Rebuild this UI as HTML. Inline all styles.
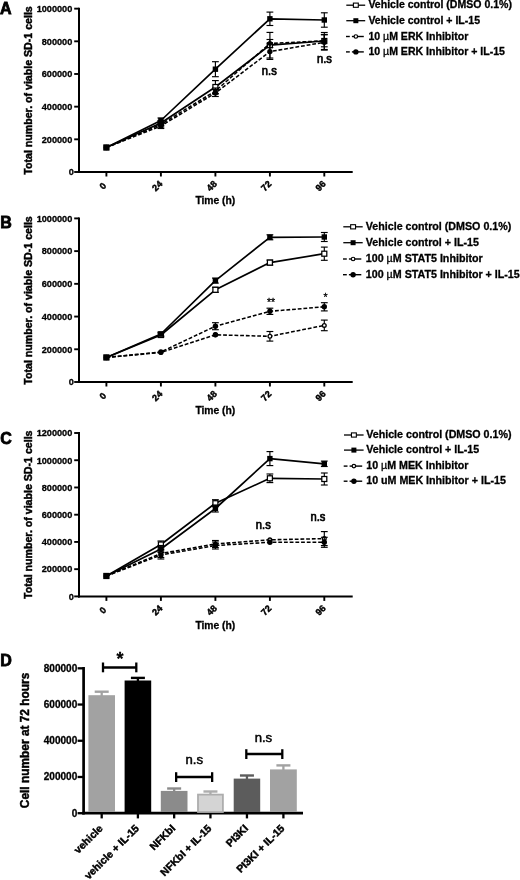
<!DOCTYPE html>
<html lang="en">
<head>
<meta charset="utf-8">
<title>Figure</title>
<style>
html,body{margin:0;padding:0;background:#fff;}
body{width:520px;height:880px;overflow:hidden;}
svg{display:block;font-family:"Liberation Sans", Arial, Helvetica, sans-serif;}
svg text{fill:#000;}
</style>
</head>
<body>
<svg width="520" height="880" viewBox="0 0 520 880">
<rect width="520" height="880" fill="#fff"/>
<text transform="translate(0.00 14.20)" font-size="16" font-weight="bold" text-anchor="start" stroke="#000" stroke-width="0.8">A</text>
<line x1="79.00" y1="7.65" x2="79.00" y2="173.00" stroke="#000" stroke-width="2" stroke-linecap="butt"/>
<line x1="78.00" y1="172.00" x2="352.70" y2="172.00" stroke="#000" stroke-width="2" stroke-linecap="butt"/>
<line x1="74.20" y1="172.00" x2="79.00" y2="172.00" stroke="#000" stroke-width="1.9" stroke-linecap="butt"/>
<text transform="translate(73.80 175.30) scale(0.975 1)" font-size="9.4" font-weight="bold" text-anchor="end" stroke="#000" stroke-width="0.3">0</text>
<line x1="74.20" y1="139.33" x2="79.00" y2="139.33" stroke="#000" stroke-width="1.9" stroke-linecap="butt"/>
<text transform="translate(72.30 142.63) scale(0.975 1)" font-size="9.4" font-weight="bold" text-anchor="end" stroke="#000" stroke-width="0.3">200000</text>
<line x1="74.20" y1="106.66" x2="79.00" y2="106.66" stroke="#000" stroke-width="1.9" stroke-linecap="butt"/>
<text transform="translate(72.30 109.96) scale(0.975 1)" font-size="9.4" font-weight="bold" text-anchor="end" stroke="#000" stroke-width="0.3">400000</text>
<line x1="74.20" y1="73.99" x2="79.00" y2="73.99" stroke="#000" stroke-width="1.9" stroke-linecap="butt"/>
<text transform="translate(72.30 77.29) scale(0.975 1)" font-size="9.4" font-weight="bold" text-anchor="end" stroke="#000" stroke-width="0.3">600000</text>
<line x1="74.20" y1="41.32" x2="79.00" y2="41.32" stroke="#000" stroke-width="1.9" stroke-linecap="butt"/>
<text transform="translate(72.30 44.62) scale(0.975 1)" font-size="9.4" font-weight="bold" text-anchor="end" stroke="#000" stroke-width="0.3">800000</text>
<line x1="74.20" y1="8.65" x2="79.00" y2="8.65" stroke="#000" stroke-width="1.9" stroke-linecap="butt"/>
<text transform="translate(72.30 11.95) scale(0.975 1)" font-size="9.4" font-weight="bold" text-anchor="end" stroke="#000" stroke-width="0.3">1000000</text>
<line x1="106.40" y1="172.00" x2="106.40" y2="176.50" stroke="#000" stroke-width="1.9" stroke-linecap="butt"/>
<text transform="translate(106.90 186.30) rotate(-45)" font-size="9.1" font-weight="bold" text-anchor="end" stroke="#000" stroke-width="0.45">0</text>
<line x1="160.90" y1="172.00" x2="160.90" y2="176.50" stroke="#000" stroke-width="1.9" stroke-linecap="butt"/>
<text transform="translate(163.00 184.50) rotate(-45)" font-size="9.1" font-weight="bold" text-anchor="end" stroke="#000" stroke-width="0.45">24</text>
<line x1="215.40" y1="172.00" x2="215.40" y2="176.50" stroke="#000" stroke-width="1.9" stroke-linecap="butt"/>
<text transform="translate(217.50 184.50) rotate(-45)" font-size="9.1" font-weight="bold" text-anchor="end" stroke="#000" stroke-width="0.45">48</text>
<line x1="269.90" y1="172.00" x2="269.90" y2="176.50" stroke="#000" stroke-width="1.9" stroke-linecap="butt"/>
<text transform="translate(272.00 184.50) rotate(-45)" font-size="9.1" font-weight="bold" text-anchor="end" stroke="#000" stroke-width="0.45">72</text>
<line x1="324.30" y1="172.00" x2="324.30" y2="176.50" stroke="#000" stroke-width="1.9" stroke-linecap="butt"/>
<text transform="translate(326.40 184.50) rotate(-45)" font-size="9.1" font-weight="bold" text-anchor="end" stroke="#000" stroke-width="0.45">96</text>
<text transform="translate(215.30 203.70)" font-size="10.3" font-weight="bold" text-anchor="middle" stroke="#000" stroke-width="0.3">Time (h)</text>
<text transform="translate(31.70 90.45) rotate(-90) scale(1.012 1)" font-size="10.5" font-weight="bold" text-anchor="middle" stroke="#000" stroke-width="0.45">Total number. of viable SD-1 cells</text>
<polyline points="106.40,147.50 160.90,123.00 215.40,87.00 269.90,45.20 324.30,41.00" fill="none" stroke="#000" stroke-width="1.7" stroke-linejoin="round"/>
<line x1="160.90" y1="120.50" x2="160.90" y2="125.50" stroke="#000" stroke-width="1.15" stroke-linecap="butt"/>
<line x1="157.50" y1="120.50" x2="164.30" y2="120.50" stroke="#000" stroke-width="1.15" stroke-linecap="butt"/>
<line x1="157.50" y1="125.50" x2="164.30" y2="125.50" stroke="#000" stroke-width="1.15" stroke-linecap="butt"/>
<line x1="215.40" y1="80.60" x2="215.40" y2="93.40" stroke="#000" stroke-width="1.15" stroke-linecap="butt"/>
<line x1="212.00" y1="80.60" x2="218.80" y2="80.60" stroke="#000" stroke-width="1.15" stroke-linecap="butt"/>
<line x1="212.00" y1="93.40" x2="218.80" y2="93.40" stroke="#000" stroke-width="1.15" stroke-linecap="butt"/>
<line x1="269.90" y1="32.40" x2="269.90" y2="58.00" stroke="#000" stroke-width="1.15" stroke-linecap="butt"/>
<line x1="266.50" y1="32.40" x2="273.30" y2="32.40" stroke="#000" stroke-width="1.15" stroke-linecap="butt"/>
<line x1="266.50" y1="58.00" x2="273.30" y2="58.00" stroke="#000" stroke-width="1.15" stroke-linecap="butt"/>
<line x1="324.30" y1="32.50" x2="324.30" y2="49.50" stroke="#000" stroke-width="1.15" stroke-linecap="butt"/>
<line x1="320.90" y1="32.50" x2="327.70" y2="32.50" stroke="#000" stroke-width="1.15" stroke-linecap="butt"/>
<line x1="320.90" y1="49.50" x2="327.70" y2="49.50" stroke="#000" stroke-width="1.15" stroke-linecap="butt"/>
<rect x="103.90" y="145.00" width="5" height="5" fill="#fff" stroke="#000" stroke-width="1.25"/>
<rect x="158.40" y="120.50" width="5" height="5" fill="#fff" stroke="#000" stroke-width="1.25"/>
<rect x="212.90" y="84.50" width="5" height="5" fill="#fff" stroke="#000" stroke-width="1.25"/>
<rect x="267.40" y="42.70" width="5" height="5" fill="#fff" stroke="#000" stroke-width="1.25"/>
<rect x="321.80" y="38.50" width="5" height="5" fill="#fff" stroke="#000" stroke-width="1.25"/>
<polyline points="106.40,147.50 160.90,120.50 215.40,69.20 269.90,18.80 324.30,20.00" fill="none" stroke="#000" stroke-width="1.7" stroke-linejoin="round"/>
<line x1="160.90" y1="118.00" x2="160.90" y2="123.00" stroke="#000" stroke-width="1.15" stroke-linecap="butt"/>
<line x1="157.50" y1="118.00" x2="164.30" y2="118.00" stroke="#000" stroke-width="1.15" stroke-linecap="butt"/>
<line x1="157.50" y1="123.00" x2="164.30" y2="123.00" stroke="#000" stroke-width="1.15" stroke-linecap="butt"/>
<line x1="215.40" y1="61.70" x2="215.40" y2="76.70" stroke="#000" stroke-width="1.15" stroke-linecap="butt"/>
<line x1="212.00" y1="61.70" x2="218.80" y2="61.70" stroke="#000" stroke-width="1.15" stroke-linecap="butt"/>
<line x1="212.00" y1="76.70" x2="218.80" y2="76.70" stroke="#000" stroke-width="1.15" stroke-linecap="butt"/>
<line x1="269.90" y1="12.10" x2="269.90" y2="25.50" stroke="#000" stroke-width="1.15" stroke-linecap="butt"/>
<line x1="266.50" y1="12.10" x2="273.30" y2="12.10" stroke="#000" stroke-width="1.15" stroke-linecap="butt"/>
<line x1="266.50" y1="25.50" x2="273.30" y2="25.50" stroke="#000" stroke-width="1.15" stroke-linecap="butt"/>
<line x1="324.30" y1="12.80" x2="324.30" y2="27.20" stroke="#000" stroke-width="1.15" stroke-linecap="butt"/>
<line x1="320.90" y1="12.80" x2="327.70" y2="12.80" stroke="#000" stroke-width="1.15" stroke-linecap="butt"/>
<line x1="320.90" y1="27.20" x2="327.70" y2="27.20" stroke="#000" stroke-width="1.15" stroke-linecap="butt"/>
<rect x="103.70" y="144.80" width="5.4" height="5.4" fill="#000"/>
<rect x="158.20" y="117.80" width="5.4" height="5.4" fill="#000"/>
<rect x="212.70" y="66.50" width="5.4" height="5.4" fill="#000"/>
<rect x="267.20" y="16.10" width="5.4" height="5.4" fill="#000"/>
<rect x="321.60" y="17.30" width="5.4" height="5.4" fill="#000"/>
<polyline points="106.40,147.50 160.90,124.50 215.40,91.00 269.90,43.50 324.30,40.80" fill="none" stroke="#000" stroke-width="1.55" stroke-dasharray="3.8 1.9" stroke-linejoin="round"/>
<line x1="160.90" y1="122.00" x2="160.90" y2="127.00" stroke="#000" stroke-width="1.15" stroke-linecap="butt"/>
<line x1="157.50" y1="122.00" x2="164.30" y2="122.00" stroke="#000" stroke-width="1.15" stroke-linecap="butt"/>
<line x1="157.50" y1="127.00" x2="164.30" y2="127.00" stroke="#000" stroke-width="1.15" stroke-linecap="butt"/>
<line x1="215.40" y1="88.00" x2="215.40" y2="94.00" stroke="#000" stroke-width="1.15" stroke-linecap="butt"/>
<line x1="212.00" y1="88.00" x2="218.80" y2="88.00" stroke="#000" stroke-width="1.15" stroke-linecap="butt"/>
<line x1="212.00" y1="94.00" x2="218.80" y2="94.00" stroke="#000" stroke-width="1.15" stroke-linecap="butt"/>
<line x1="269.90" y1="39.50" x2="269.90" y2="47.50" stroke="#000" stroke-width="1.15" stroke-linecap="butt"/>
<line x1="266.50" y1="39.50" x2="273.30" y2="39.50" stroke="#000" stroke-width="1.15" stroke-linecap="butt"/>
<line x1="266.50" y1="47.50" x2="273.30" y2="47.50" stroke="#000" stroke-width="1.15" stroke-linecap="butt"/>
<line x1="324.30" y1="34.80" x2="324.30" y2="46.80" stroke="#000" stroke-width="1.15" stroke-linecap="butt"/>
<line x1="320.90" y1="34.80" x2="327.70" y2="34.80" stroke="#000" stroke-width="1.15" stroke-linecap="butt"/>
<line x1="320.90" y1="46.80" x2="327.70" y2="46.80" stroke="#000" stroke-width="1.15" stroke-linecap="butt"/>
<circle cx="106.40" cy="147.50" r="2.45" fill="#000"/>
<circle cx="160.90" cy="124.50" r="2.45" fill="#000"/>
<circle cx="215.40" cy="91.00" r="2.45" fill="#000"/>
<circle cx="269.90" cy="43.50" r="2.45" fill="#000"/>
<circle cx="324.30" cy="40.80" r="2.45" fill="#000"/>
<polyline points="106.40,147.50 160.90,126.00 215.40,93.00 269.90,51.60 324.30,42.30" fill="none" stroke="#000" stroke-width="1.55" stroke-dasharray="3.8 1.9" stroke-linejoin="round"/>
<line x1="160.90" y1="123.50" x2="160.90" y2="128.50" stroke="#000" stroke-width="1.15" stroke-linecap="butt"/>
<line x1="157.50" y1="123.50" x2="164.30" y2="123.50" stroke="#000" stroke-width="1.15" stroke-linecap="butt"/>
<line x1="157.50" y1="128.50" x2="164.30" y2="128.50" stroke="#000" stroke-width="1.15" stroke-linecap="butt"/>
<line x1="215.40" y1="89.50" x2="215.40" y2="96.50" stroke="#000" stroke-width="1.15" stroke-linecap="butt"/>
<line x1="212.00" y1="89.50" x2="218.80" y2="89.50" stroke="#000" stroke-width="1.15" stroke-linecap="butt"/>
<line x1="212.00" y1="96.50" x2="218.80" y2="96.50" stroke="#000" stroke-width="1.15" stroke-linecap="butt"/>
<line x1="269.90" y1="43.80" x2="269.90" y2="59.40" stroke="#000" stroke-width="1.15" stroke-linecap="butt"/>
<line x1="266.50" y1="43.80" x2="273.30" y2="43.80" stroke="#000" stroke-width="1.15" stroke-linecap="butt"/>
<line x1="266.50" y1="59.40" x2="273.30" y2="59.40" stroke="#000" stroke-width="1.15" stroke-linecap="butt"/>
<line x1="324.30" y1="34.50" x2="324.30" y2="50.10" stroke="#000" stroke-width="1.15" stroke-linecap="butt"/>
<line x1="320.90" y1="34.50" x2="327.70" y2="34.50" stroke="#000" stroke-width="1.15" stroke-linecap="butt"/>
<line x1="320.90" y1="50.10" x2="327.70" y2="50.10" stroke="#000" stroke-width="1.15" stroke-linecap="butt"/>
<circle cx="106.40" cy="147.50" r="2.7" fill="#000"/>
<circle cx="160.90" cy="126.00" r="2.7" fill="#000"/>
<circle cx="215.40" cy="93.00" r="2.7" fill="#000"/>
<circle cx="269.90" cy="51.60" r="2.7" fill="#000"/>
<circle cx="324.30" cy="42.30" r="2.7" fill="#000"/>
<text transform="translate(269.30 74.60) scale(0.93 1)" font-size="12.0" font-weight="normal" text-anchor="middle" stroke="#000" stroke-width="0.7">n.s</text>
<text transform="translate(324.40 62.50) scale(0.93 1)" font-size="12.0" font-weight="normal" text-anchor="middle" stroke="#000" stroke-width="0.7">n.s</text>
<line x1="346.30" y1="5.20" x2="365.20" y2="5.20" stroke="#000" stroke-width="1.3" stroke-linecap="butt"/>
<rect x="353.40" y="3.10" width="4.9" height="4.2" fill="#fff" stroke="#000" stroke-width="1.1"/>
<text transform="translate(368.40 8.40)" font-size="10.55" font-weight="bold" text-anchor="start" stroke="#000" stroke-width="0.3">Vehicle control (DMSO 0.1%)</text>
<line x1="346.30" y1="20.70" x2="365.20" y2="20.70" stroke="#000" stroke-width="1.3" stroke-linecap="butt"/>
<rect x="353.35" y="18.20" width="5.0" height="5.0" fill="#000"/>
<text transform="translate(368.40 23.90)" font-size="10.55" font-weight="bold" text-anchor="start" stroke="#000" stroke-width="0.3">Vehicle control + IL-15</text>
<line x1="346.00" y1="36.50" x2="349.80" y2="36.50" stroke="#000" stroke-width="1.4" stroke-linecap="butt"/>
<line x1="351.90" y1="36.50" x2="363.80" y2="36.50" stroke="#000" stroke-width="1.4" stroke-linecap="butt"/>
<circle cx="355.85" cy="36.50" r="1.75" fill="#fff" stroke="#000" stroke-width="1.2"/>
<text transform="translate(368.40 39.70)" font-size="10.55" font-weight="bold" text-anchor="start" stroke="#000" stroke-width="0.3">10 <tspan font-weight="normal">µ</tspan>M ERK Inhibitor</text>
<line x1="346.00" y1="51.90" x2="349.80" y2="51.90" stroke="#000" stroke-width="1.4" stroke-linecap="butt"/>
<line x1="351.90" y1="51.90" x2="363.80" y2="51.90" stroke="#000" stroke-width="1.4" stroke-linecap="butt"/>
<circle cx="355.85" cy="51.90" r="2.7" fill="#000"/>
<text transform="translate(368.40 55.10)" font-size="10.55" font-weight="bold" text-anchor="start" stroke="#000" stroke-width="0.3">10 <tspan font-weight="normal">µ</tspan>M ERK Inhibitor + IL-15</text>
<text transform="translate(0.30 228.30)" font-size="16" font-weight="bold" text-anchor="start" stroke="#000" stroke-width="0.8">B</text>
<line x1="79.00" y1="217.40" x2="79.00" y2="383.00" stroke="#000" stroke-width="2" stroke-linecap="butt"/>
<line x1="78.00" y1="382.00" x2="352.70" y2="382.00" stroke="#000" stroke-width="2" stroke-linecap="butt"/>
<line x1="74.20" y1="382.00" x2="79.00" y2="382.00" stroke="#000" stroke-width="1.9" stroke-linecap="butt"/>
<text transform="translate(73.80 385.30) scale(0.975 1)" font-size="9.4" font-weight="bold" text-anchor="end" stroke="#000" stroke-width="0.3">0</text>
<line x1="74.20" y1="349.28" x2="79.00" y2="349.28" stroke="#000" stroke-width="1.9" stroke-linecap="butt"/>
<text transform="translate(72.30 352.58) scale(0.975 1)" font-size="9.4" font-weight="bold" text-anchor="end" stroke="#000" stroke-width="0.3">200000</text>
<line x1="74.20" y1="316.56" x2="79.00" y2="316.56" stroke="#000" stroke-width="1.9" stroke-linecap="butt"/>
<text transform="translate(72.30 319.86) scale(0.975 1)" font-size="9.4" font-weight="bold" text-anchor="end" stroke="#000" stroke-width="0.3">400000</text>
<line x1="74.20" y1="283.84" x2="79.00" y2="283.84" stroke="#000" stroke-width="1.9" stroke-linecap="butt"/>
<text transform="translate(72.30 287.14) scale(0.975 1)" font-size="9.4" font-weight="bold" text-anchor="end" stroke="#000" stroke-width="0.3">600000</text>
<line x1="74.20" y1="251.12" x2="79.00" y2="251.12" stroke="#000" stroke-width="1.9" stroke-linecap="butt"/>
<text transform="translate(72.30 254.42) scale(0.975 1)" font-size="9.4" font-weight="bold" text-anchor="end" stroke="#000" stroke-width="0.3">800000</text>
<line x1="74.20" y1="218.40" x2="79.00" y2="218.40" stroke="#000" stroke-width="1.9" stroke-linecap="butt"/>
<text transform="translate(72.30 221.70) scale(0.975 1)" font-size="9.4" font-weight="bold" text-anchor="end" stroke="#000" stroke-width="0.3">1000000</text>
<line x1="106.40" y1="382.00" x2="106.40" y2="386.50" stroke="#000" stroke-width="1.9" stroke-linecap="butt"/>
<text transform="translate(106.90 396.30) rotate(-45)" font-size="9.1" font-weight="bold" text-anchor="end" stroke="#000" stroke-width="0.45">0</text>
<line x1="160.90" y1="382.00" x2="160.90" y2="386.50" stroke="#000" stroke-width="1.9" stroke-linecap="butt"/>
<text transform="translate(163.00 394.50) rotate(-45)" font-size="9.1" font-weight="bold" text-anchor="end" stroke="#000" stroke-width="0.45">24</text>
<line x1="215.40" y1="382.00" x2="215.40" y2="386.50" stroke="#000" stroke-width="1.9" stroke-linecap="butt"/>
<text transform="translate(217.50 394.50) rotate(-45)" font-size="9.1" font-weight="bold" text-anchor="end" stroke="#000" stroke-width="0.45">48</text>
<line x1="269.90" y1="382.00" x2="269.90" y2="386.50" stroke="#000" stroke-width="1.9" stroke-linecap="butt"/>
<text transform="translate(272.00 394.50) rotate(-45)" font-size="9.1" font-weight="bold" text-anchor="end" stroke="#000" stroke-width="0.45">72</text>
<line x1="324.30" y1="382.00" x2="324.30" y2="386.50" stroke="#000" stroke-width="1.9" stroke-linecap="butt"/>
<text transform="translate(326.40 394.50) rotate(-45)" font-size="9.1" font-weight="bold" text-anchor="end" stroke="#000" stroke-width="0.45">96</text>
<text transform="translate(215.30 413.80)" font-size="10.3" font-weight="bold" text-anchor="middle" stroke="#000" stroke-width="0.3">Time (h)</text>
<text transform="translate(31.70 300.45) rotate(-90) scale(1.012 1)" font-size="10.5" font-weight="bold" text-anchor="middle" stroke="#000" stroke-width="0.45">Total number. of viable SD-1 cells</text>
<polyline points="106.40,357.46 160.90,335.00 215.40,289.80 269.90,262.60 324.30,253.70" fill="none" stroke="#000" stroke-width="1.7" stroke-linejoin="round"/>
<line x1="160.90" y1="333.00" x2="160.90" y2="337.00" stroke="#000" stroke-width="1.15" stroke-linecap="butt"/>
<line x1="157.50" y1="333.00" x2="164.30" y2="333.00" stroke="#000" stroke-width="1.15" stroke-linecap="butt"/>
<line x1="157.50" y1="337.00" x2="164.30" y2="337.00" stroke="#000" stroke-width="1.15" stroke-linecap="butt"/>
<line x1="215.40" y1="287.30" x2="215.40" y2="292.30" stroke="#000" stroke-width="1.15" stroke-linecap="butt"/>
<line x1="212.00" y1="287.30" x2="218.80" y2="287.30" stroke="#000" stroke-width="1.15" stroke-linecap="butt"/>
<line x1="212.00" y1="292.30" x2="218.80" y2="292.30" stroke="#000" stroke-width="1.15" stroke-linecap="butt"/>
<line x1="269.90" y1="260.10" x2="269.90" y2="265.10" stroke="#000" stroke-width="1.15" stroke-linecap="butt"/>
<line x1="266.50" y1="260.10" x2="273.30" y2="260.10" stroke="#000" stroke-width="1.15" stroke-linecap="butt"/>
<line x1="266.50" y1="265.10" x2="273.30" y2="265.10" stroke="#000" stroke-width="1.15" stroke-linecap="butt"/>
<line x1="324.30" y1="247.10" x2="324.30" y2="260.30" stroke="#000" stroke-width="1.15" stroke-linecap="butt"/>
<line x1="320.90" y1="247.10" x2="327.70" y2="247.10" stroke="#000" stroke-width="1.15" stroke-linecap="butt"/>
<line x1="320.90" y1="260.30" x2="327.70" y2="260.30" stroke="#000" stroke-width="1.15" stroke-linecap="butt"/>
<rect x="103.90" y="354.96" width="5" height="5" fill="#fff" stroke="#000" stroke-width="1.25"/>
<rect x="158.40" y="332.50" width="5" height="5" fill="#fff" stroke="#000" stroke-width="1.25"/>
<rect x="212.90" y="287.30" width="5" height="5" fill="#fff" stroke="#000" stroke-width="1.25"/>
<rect x="267.40" y="260.10" width="5" height="5" fill="#fff" stroke="#000" stroke-width="1.25"/>
<rect x="321.80" y="251.20" width="5" height="5" fill="#fff" stroke="#000" stroke-width="1.25"/>
<polyline points="106.40,357.46 160.90,334.00 215.40,280.60 269.90,237.30 324.30,237.00" fill="none" stroke="#000" stroke-width="1.7" stroke-linejoin="round"/>
<line x1="160.90" y1="332.00" x2="160.90" y2="336.00" stroke="#000" stroke-width="1.15" stroke-linecap="butt"/>
<line x1="157.50" y1="332.00" x2="164.30" y2="332.00" stroke="#000" stroke-width="1.15" stroke-linecap="butt"/>
<line x1="157.50" y1="336.00" x2="164.30" y2="336.00" stroke="#000" stroke-width="1.15" stroke-linecap="butt"/>
<line x1="215.40" y1="278.10" x2="215.40" y2="283.10" stroke="#000" stroke-width="1.15" stroke-linecap="butt"/>
<line x1="212.00" y1="278.10" x2="218.80" y2="278.10" stroke="#000" stroke-width="1.15" stroke-linecap="butt"/>
<line x1="212.00" y1="283.10" x2="218.80" y2="283.10" stroke="#000" stroke-width="1.15" stroke-linecap="butt"/>
<line x1="269.90" y1="234.80" x2="269.90" y2="239.80" stroke="#000" stroke-width="1.15" stroke-linecap="butt"/>
<line x1="266.50" y1="234.80" x2="273.30" y2="234.80" stroke="#000" stroke-width="1.15" stroke-linecap="butt"/>
<line x1="266.50" y1="239.80" x2="273.30" y2="239.80" stroke="#000" stroke-width="1.15" stroke-linecap="butt"/>
<line x1="324.30" y1="232.50" x2="324.30" y2="241.50" stroke="#000" stroke-width="1.15" stroke-linecap="butt"/>
<line x1="320.90" y1="232.50" x2="327.70" y2="232.50" stroke="#000" stroke-width="1.15" stroke-linecap="butt"/>
<line x1="320.90" y1="241.50" x2="327.70" y2="241.50" stroke="#000" stroke-width="1.15" stroke-linecap="butt"/>
<rect x="103.70" y="354.76" width="5.4" height="5.4" fill="#000"/>
<rect x="158.20" y="331.30" width="5.4" height="5.4" fill="#000"/>
<rect x="212.70" y="277.90" width="5.4" height="5.4" fill="#000"/>
<rect x="267.20" y="234.60" width="5.4" height="5.4" fill="#000"/>
<rect x="321.60" y="234.30" width="5.4" height="5.4" fill="#000"/>
<polyline points="106.40,357.46 160.90,352.50 215.40,334.80 269.90,336.30 324.30,325.40" fill="none" stroke="#000" stroke-width="1.55" stroke-dasharray="3.8 1.9" stroke-linejoin="round"/>
<line x1="269.90" y1="331.50" x2="269.90" y2="341.10" stroke="#000" stroke-width="1.15" stroke-linecap="butt"/>
<line x1="266.50" y1="331.50" x2="273.30" y2="331.50" stroke="#000" stroke-width="1.15" stroke-linecap="butt"/>
<line x1="266.50" y1="341.10" x2="273.30" y2="341.10" stroke="#000" stroke-width="1.15" stroke-linecap="butt"/>
<line x1="324.30" y1="320.10" x2="324.30" y2="330.70" stroke="#000" stroke-width="1.15" stroke-linecap="butt"/>
<line x1="320.90" y1="320.10" x2="327.70" y2="320.10" stroke="#000" stroke-width="1.15" stroke-linecap="butt"/>
<line x1="320.90" y1="330.70" x2="327.70" y2="330.70" stroke="#000" stroke-width="1.15" stroke-linecap="butt"/>
<circle cx="106.40" cy="357.46" r="1.85" fill="#fff" stroke="#000" stroke-width="1.35"/>
<circle cx="160.90" cy="352.50" r="1.85" fill="#fff" stroke="#000" stroke-width="1.35"/>
<circle cx="215.40" cy="334.80" r="1.85" fill="#fff" stroke="#000" stroke-width="1.35"/>
<circle cx="269.90" cy="336.30" r="1.85" fill="#fff" stroke="#000" stroke-width="1.35"/>
<circle cx="324.30" cy="325.40" r="1.85" fill="#fff" stroke="#000" stroke-width="1.35"/>
<polyline points="106.40,357.46 160.90,352.00 215.40,326.20 269.90,311.30 324.30,306.80" fill="none" stroke="#000" stroke-width="1.55" stroke-dasharray="3.8 1.9" stroke-linejoin="round"/>
<line x1="215.40" y1="322.70" x2="215.40" y2="329.70" stroke="#000" stroke-width="1.15" stroke-linecap="butt"/>
<line x1="212.00" y1="322.70" x2="218.80" y2="322.70" stroke="#000" stroke-width="1.15" stroke-linecap="butt"/>
<line x1="212.00" y1="329.70" x2="218.80" y2="329.70" stroke="#000" stroke-width="1.15" stroke-linecap="butt"/>
<line x1="269.90" y1="308.20" x2="269.90" y2="314.40" stroke="#000" stroke-width="1.15" stroke-linecap="butt"/>
<line x1="266.50" y1="308.20" x2="273.30" y2="308.20" stroke="#000" stroke-width="1.15" stroke-linecap="butt"/>
<line x1="266.50" y1="314.40" x2="273.30" y2="314.40" stroke="#000" stroke-width="1.15" stroke-linecap="butt"/>
<line x1="324.30" y1="302.70" x2="324.30" y2="310.90" stroke="#000" stroke-width="1.15" stroke-linecap="butt"/>
<line x1="320.90" y1="302.70" x2="327.70" y2="302.70" stroke="#000" stroke-width="1.15" stroke-linecap="butt"/>
<line x1="320.90" y1="310.90" x2="327.70" y2="310.90" stroke="#000" stroke-width="1.15" stroke-linecap="butt"/>
<circle cx="106.40" cy="357.46" r="2.7" fill="#000"/>
<circle cx="160.90" cy="352.00" r="2.7" fill="#000"/>
<circle cx="215.40" cy="326.20" r="2.7" fill="#000"/>
<circle cx="269.90" cy="311.30" r="2.7" fill="#000"/>
<circle cx="324.30" cy="306.80" r="2.7" fill="#000"/>
<circle cx="215.40" cy="334.80" r="2.7" fill="#000"/>
<text transform="translate(271.00 305.80)" font-size="10.5" font-weight="normal" text-anchor="middle" stroke="#000" stroke-width="0.3">**</text>
<text transform="translate(325.60 300.60)" font-size="10.5" font-weight="normal" text-anchor="middle" stroke="#000" stroke-width="0.3">*</text>
<line x1="343.30" y1="226.80" x2="362.70" y2="226.80" stroke="#000" stroke-width="1.3" stroke-linecap="butt"/>
<rect x="350.65" y="224.70" width="4.9" height="4.2" fill="#fff" stroke="#000" stroke-width="1.1"/>
<text transform="translate(365.80 230.00)" font-size="10.7" font-weight="bold" text-anchor="start" stroke="#000" stroke-width="0.3">Vehicle control (DMSO 0.1%)</text>
<line x1="343.30" y1="242.70" x2="362.70" y2="242.70" stroke="#000" stroke-width="1.3" stroke-linecap="butt"/>
<rect x="350.60" y="240.20" width="5.0" height="5.0" fill="#000"/>
<text transform="translate(365.80 245.90)" font-size="10.7" font-weight="bold" text-anchor="start" stroke="#000" stroke-width="0.3">Vehicle control + IL-15</text>
<line x1="343.00" y1="259.00" x2="346.80" y2="259.00" stroke="#000" stroke-width="1.4" stroke-linecap="butt"/>
<line x1="348.90" y1="259.00" x2="361.30" y2="259.00" stroke="#000" stroke-width="1.4" stroke-linecap="butt"/>
<circle cx="353.10" cy="259.00" r="1.75" fill="#fff" stroke="#000" stroke-width="1.2"/>
<text transform="translate(365.80 262.20)" font-size="10.7" font-weight="bold" text-anchor="start" stroke="#000" stroke-width="0.3">100 <tspan font-weight="normal">µ</tspan>M STAT5 Inhibitor</text>
<line x1="343.00" y1="274.70" x2="346.80" y2="274.70" stroke="#000" stroke-width="1.4" stroke-linecap="butt"/>
<line x1="348.90" y1="274.70" x2="361.30" y2="274.70" stroke="#000" stroke-width="1.4" stroke-linecap="butt"/>
<circle cx="353.10" cy="274.70" r="2.7" fill="#000"/>
<text transform="translate(365.80 277.90)" font-size="10.7" font-weight="bold" text-anchor="start" stroke="#000" stroke-width="0.3">100 <tspan font-weight="normal">µ</tspan>M STAT5 Inhibitor + IL-15</text>
<text transform="translate(0.20 443.50)" font-size="16" font-weight="bold" text-anchor="start" stroke="#000" stroke-width="0.8">C</text>
<line x1="79.00" y1="432.00" x2="79.00" y2="597.40" stroke="#000" stroke-width="2" stroke-linecap="butt"/>
<line x1="78.00" y1="596.40" x2="352.70" y2="596.40" stroke="#000" stroke-width="2" stroke-linecap="butt"/>
<line x1="74.20" y1="596.40" x2="79.00" y2="596.40" stroke="#000" stroke-width="1.9" stroke-linecap="butt"/>
<text transform="translate(73.80 599.70) scale(0.975 1)" font-size="9.4" font-weight="bold" text-anchor="end" stroke="#000" stroke-width="0.3">0</text>
<line x1="74.20" y1="569.17" x2="79.00" y2="569.17" stroke="#000" stroke-width="1.9" stroke-linecap="butt"/>
<text transform="translate(72.30 572.47) scale(0.975 1)" font-size="9.4" font-weight="bold" text-anchor="end" stroke="#000" stroke-width="0.3">200000</text>
<line x1="74.20" y1="541.93" x2="79.00" y2="541.93" stroke="#000" stroke-width="1.9" stroke-linecap="butt"/>
<text transform="translate(72.30 545.23) scale(0.975 1)" font-size="9.4" font-weight="bold" text-anchor="end" stroke="#000" stroke-width="0.3">400000</text>
<line x1="74.20" y1="514.70" x2="79.00" y2="514.70" stroke="#000" stroke-width="1.9" stroke-linecap="butt"/>
<text transform="translate(72.30 518.00) scale(0.975 1)" font-size="9.4" font-weight="bold" text-anchor="end" stroke="#000" stroke-width="0.3">600000</text>
<line x1="74.20" y1="487.47" x2="79.00" y2="487.47" stroke="#000" stroke-width="1.9" stroke-linecap="butt"/>
<text transform="translate(72.30 490.77) scale(0.975 1)" font-size="9.4" font-weight="bold" text-anchor="end" stroke="#000" stroke-width="0.3">800000</text>
<line x1="74.20" y1="460.23" x2="79.00" y2="460.23" stroke="#000" stroke-width="1.9" stroke-linecap="butt"/>
<text transform="translate(72.30 463.53) scale(0.975 1)" font-size="9.4" font-weight="bold" text-anchor="end" stroke="#000" stroke-width="0.3">1000000</text>
<line x1="74.20" y1="433.00" x2="79.00" y2="433.00" stroke="#000" stroke-width="1.9" stroke-linecap="butt"/>
<text transform="translate(72.30 436.30) scale(0.975 1)" font-size="9.4" font-weight="bold" text-anchor="end" stroke="#000" stroke-width="0.3">1200000</text>
<line x1="106.40" y1="596.40" x2="106.40" y2="600.90" stroke="#000" stroke-width="1.9" stroke-linecap="butt"/>
<text transform="translate(106.90 610.70) rotate(-45)" font-size="9.1" font-weight="bold" text-anchor="end" stroke="#000" stroke-width="0.45">0</text>
<line x1="160.90" y1="596.40" x2="160.90" y2="600.90" stroke="#000" stroke-width="1.9" stroke-linecap="butt"/>
<text transform="translate(163.00 608.90) rotate(-45)" font-size="9.1" font-weight="bold" text-anchor="end" stroke="#000" stroke-width="0.45">24</text>
<line x1="215.40" y1="596.40" x2="215.40" y2="600.90" stroke="#000" stroke-width="1.9" stroke-linecap="butt"/>
<text transform="translate(217.50 608.90) rotate(-45)" font-size="9.1" font-weight="bold" text-anchor="end" stroke="#000" stroke-width="0.45">48</text>
<line x1="269.90" y1="596.40" x2="269.90" y2="600.90" stroke="#000" stroke-width="1.9" stroke-linecap="butt"/>
<text transform="translate(272.00 608.90) rotate(-45)" font-size="9.1" font-weight="bold" text-anchor="end" stroke="#000" stroke-width="0.45">72</text>
<line x1="324.30" y1="596.40" x2="324.30" y2="600.90" stroke="#000" stroke-width="1.9" stroke-linecap="butt"/>
<text transform="translate(326.40 608.90) rotate(-45)" font-size="9.1" font-weight="bold" text-anchor="end" stroke="#000" stroke-width="0.45">96</text>
<text transform="translate(215.30 628.50)" font-size="10.3" font-weight="bold" text-anchor="middle" stroke="#000" stroke-width="0.3">Time (h)</text>
<text transform="translate(31.70 514.70) rotate(-90) scale(1.012 1)" font-size="10.5" font-weight="bold" text-anchor="middle" stroke="#000" stroke-width="0.45">Total number. of viable SD-1 cells</text>
<polyline points="106.40,575.98 160.90,544.50 215.40,503.20 269.90,478.30 324.30,479.00" fill="none" stroke="#000" stroke-width="1.7" stroke-linejoin="round"/>
<line x1="160.90" y1="541.00" x2="160.90" y2="548.00" stroke="#000" stroke-width="1.15" stroke-linecap="butt"/>
<line x1="157.50" y1="541.00" x2="164.30" y2="541.00" stroke="#000" stroke-width="1.15" stroke-linecap="butt"/>
<line x1="157.50" y1="548.00" x2="164.30" y2="548.00" stroke="#000" stroke-width="1.15" stroke-linecap="butt"/>
<line x1="215.40" y1="499.70" x2="215.40" y2="506.70" stroke="#000" stroke-width="1.15" stroke-linecap="butt"/>
<line x1="212.00" y1="499.70" x2="218.80" y2="499.70" stroke="#000" stroke-width="1.15" stroke-linecap="butt"/>
<line x1="212.00" y1="506.70" x2="218.80" y2="506.70" stroke="#000" stroke-width="1.15" stroke-linecap="butt"/>
<line x1="269.90" y1="474.00" x2="269.90" y2="482.60" stroke="#000" stroke-width="1.15" stroke-linecap="butt"/>
<line x1="266.50" y1="474.00" x2="273.30" y2="474.00" stroke="#000" stroke-width="1.15" stroke-linecap="butt"/>
<line x1="266.50" y1="482.60" x2="273.30" y2="482.60" stroke="#000" stroke-width="1.15" stroke-linecap="butt"/>
<line x1="324.30" y1="473.00" x2="324.30" y2="485.00" stroke="#000" stroke-width="1.15" stroke-linecap="butt"/>
<line x1="320.90" y1="473.00" x2="327.70" y2="473.00" stroke="#000" stroke-width="1.15" stroke-linecap="butt"/>
<line x1="320.90" y1="485.00" x2="327.70" y2="485.00" stroke="#000" stroke-width="1.15" stroke-linecap="butt"/>
<rect x="103.90" y="573.48" width="5" height="5" fill="#fff" stroke="#000" stroke-width="1.25"/>
<rect x="158.40" y="542.00" width="5" height="5" fill="#fff" stroke="#000" stroke-width="1.25"/>
<rect x="212.90" y="500.70" width="5" height="5" fill="#fff" stroke="#000" stroke-width="1.25"/>
<rect x="267.40" y="475.80" width="5" height="5" fill="#fff" stroke="#000" stroke-width="1.25"/>
<rect x="321.80" y="476.50" width="5" height="5" fill="#fff" stroke="#000" stroke-width="1.25"/>
<polyline points="106.40,575.98 160.90,549.00 215.40,508.50 269.90,458.60 324.30,463.80" fill="none" stroke="#000" stroke-width="1.7" stroke-linejoin="round"/>
<line x1="160.90" y1="545.50" x2="160.90" y2="552.50" stroke="#000" stroke-width="1.15" stroke-linecap="butt"/>
<line x1="157.50" y1="545.50" x2="164.30" y2="545.50" stroke="#000" stroke-width="1.15" stroke-linecap="butt"/>
<line x1="157.50" y1="552.50" x2="164.30" y2="552.50" stroke="#000" stroke-width="1.15" stroke-linecap="butt"/>
<line x1="215.40" y1="505.00" x2="215.40" y2="512.00" stroke="#000" stroke-width="1.15" stroke-linecap="butt"/>
<line x1="212.00" y1="505.00" x2="218.80" y2="505.00" stroke="#000" stroke-width="1.15" stroke-linecap="butt"/>
<line x1="212.00" y1="512.00" x2="218.80" y2="512.00" stroke="#000" stroke-width="1.15" stroke-linecap="butt"/>
<line x1="269.90" y1="451.60" x2="269.90" y2="465.60" stroke="#000" stroke-width="1.15" stroke-linecap="butt"/>
<line x1="266.50" y1="451.60" x2="273.30" y2="451.60" stroke="#000" stroke-width="1.15" stroke-linecap="butt"/>
<line x1="266.50" y1="465.60" x2="273.30" y2="465.60" stroke="#000" stroke-width="1.15" stroke-linecap="butt"/>
<line x1="324.30" y1="461.10" x2="324.30" y2="466.50" stroke="#000" stroke-width="1.15" stroke-linecap="butt"/>
<line x1="320.90" y1="461.10" x2="327.70" y2="461.10" stroke="#000" stroke-width="1.15" stroke-linecap="butt"/>
<line x1="320.90" y1="466.50" x2="327.70" y2="466.50" stroke="#000" stroke-width="1.15" stroke-linecap="butt"/>
<rect x="103.70" y="573.27" width="5.4" height="5.4" fill="#000"/>
<rect x="158.20" y="546.30" width="5.4" height="5.4" fill="#000"/>
<rect x="212.70" y="505.80" width="5.4" height="5.4" fill="#000"/>
<rect x="267.20" y="455.90" width="5.4" height="5.4" fill="#000"/>
<rect x="321.60" y="461.10" width="5.4" height="5.4" fill="#000"/>
<polyline points="106.40,575.98 160.90,553.50 215.40,544.00 269.90,539.80 324.30,538.60" fill="none" stroke="#000" stroke-width="1.55" stroke-dasharray="3.8 1.9" stroke-linejoin="round"/>
<line x1="160.90" y1="549.50" x2="160.90" y2="557.50" stroke="#000" stroke-width="1.15" stroke-linecap="butt"/>
<line x1="157.50" y1="549.50" x2="164.30" y2="549.50" stroke="#000" stroke-width="1.15" stroke-linecap="butt"/>
<line x1="157.50" y1="557.50" x2="164.30" y2="557.50" stroke="#000" stroke-width="1.15" stroke-linecap="butt"/>
<line x1="215.40" y1="540.50" x2="215.40" y2="547.50" stroke="#000" stroke-width="1.15" stroke-linecap="butt"/>
<line x1="212.00" y1="540.50" x2="218.80" y2="540.50" stroke="#000" stroke-width="1.15" stroke-linecap="butt"/>
<line x1="212.00" y1="547.50" x2="218.80" y2="547.50" stroke="#000" stroke-width="1.15" stroke-linecap="butt"/>
<line x1="324.30" y1="531.60" x2="324.30" y2="545.60" stroke="#000" stroke-width="1.15" stroke-linecap="butt"/>
<line x1="320.90" y1="531.60" x2="327.70" y2="531.60" stroke="#000" stroke-width="1.15" stroke-linecap="butt"/>
<line x1="320.90" y1="545.60" x2="327.70" y2="545.60" stroke="#000" stroke-width="1.15" stroke-linecap="butt"/>
<circle cx="106.40" cy="575.98" r="1.85" fill="#fff" stroke="#000" stroke-width="1.35"/>
<circle cx="160.90" cy="553.50" r="1.85" fill="#fff" stroke="#000" stroke-width="1.35"/>
<circle cx="215.40" cy="544.00" r="1.85" fill="#fff" stroke="#000" stroke-width="1.35"/>
<circle cx="269.90" cy="539.80" r="1.85" fill="#fff" stroke="#000" stroke-width="1.35"/>
<circle cx="324.30" cy="538.60" r="1.85" fill="#fff" stroke="#000" stroke-width="1.35"/>
<polyline points="106.40,575.98 160.90,555.00 215.40,545.50 269.90,542.30 324.30,542.30" fill="none" stroke="#000" stroke-width="1.55" stroke-dasharray="3.8 1.9" stroke-linejoin="round"/>
<line x1="160.90" y1="551.00" x2="160.90" y2="559.00" stroke="#000" stroke-width="1.15" stroke-linecap="butt"/>
<line x1="157.50" y1="551.00" x2="164.30" y2="551.00" stroke="#000" stroke-width="1.15" stroke-linecap="butt"/>
<line x1="157.50" y1="559.00" x2="164.30" y2="559.00" stroke="#000" stroke-width="1.15" stroke-linecap="butt"/>
<line x1="215.40" y1="542.00" x2="215.40" y2="549.00" stroke="#000" stroke-width="1.15" stroke-linecap="butt"/>
<line x1="212.00" y1="542.00" x2="218.80" y2="542.00" stroke="#000" stroke-width="1.15" stroke-linecap="butt"/>
<line x1="212.00" y1="549.00" x2="218.80" y2="549.00" stroke="#000" stroke-width="1.15" stroke-linecap="butt"/>
<line x1="324.30" y1="537.30" x2="324.30" y2="547.30" stroke="#000" stroke-width="1.15" stroke-linecap="butt"/>
<line x1="320.90" y1="537.30" x2="327.70" y2="537.30" stroke="#000" stroke-width="1.15" stroke-linecap="butt"/>
<line x1="320.90" y1="547.30" x2="327.70" y2="547.30" stroke="#000" stroke-width="1.15" stroke-linecap="butt"/>
<circle cx="106.40" cy="575.98" r="2.7" fill="#000"/>
<circle cx="160.90" cy="555.00" r="2.7" fill="#000"/>
<circle cx="215.40" cy="545.50" r="2.7" fill="#000"/>
<circle cx="269.90" cy="542.30" r="2.7" fill="#000"/>
<circle cx="324.30" cy="542.30" r="2.7" fill="#000"/>
<text transform="translate(263.30 528.50) scale(0.93 1)" font-size="12.0" font-weight="normal" text-anchor="middle" stroke="#000" stroke-width="0.7">n.s</text>
<text transform="translate(318.00 521.40) scale(0.93 1)" font-size="12.0" font-weight="normal" text-anchor="middle" stroke="#000" stroke-width="0.7">n.s</text>
<line x1="344.00" y1="435.00" x2="363.60" y2="435.00" stroke="#000" stroke-width="1.3" stroke-linecap="butt"/>
<rect x="351.45" y="432.90" width="4.9" height="4.2" fill="#fff" stroke="#000" stroke-width="1.1"/>
<text transform="translate(366.20 438.20)" font-size="10.68" font-weight="bold" text-anchor="start" stroke="#000" stroke-width="0.3">Vehicle control (DMSO 0.1%)</text>
<line x1="344.00" y1="450.10" x2="363.60" y2="450.10" stroke="#000" stroke-width="1.3" stroke-linecap="butt"/>
<rect x="351.40" y="447.60" width="5.0" height="5.0" fill="#000"/>
<text transform="translate(366.20 453.30)" font-size="10.68" font-weight="bold" text-anchor="start" stroke="#000" stroke-width="0.3">Vehicle control + IL-15</text>
<line x1="343.70" y1="466.10" x2="347.50" y2="466.10" stroke="#000" stroke-width="1.4" stroke-linecap="butt"/>
<line x1="349.60" y1="466.10" x2="362.20" y2="466.10" stroke="#000" stroke-width="1.4" stroke-linecap="butt"/>
<circle cx="353.90" cy="466.10" r="1.75" fill="#fff" stroke="#000" stroke-width="1.2"/>
<text transform="translate(366.20 469.30)" font-size="10.68" font-weight="bold" text-anchor="start" stroke="#000" stroke-width="0.3">10 <tspan font-weight="normal">µ</tspan>M MEK Inhibitor</text>
<line x1="343.70" y1="481.20" x2="347.50" y2="481.20" stroke="#000" stroke-width="1.4" stroke-linecap="butt"/>
<line x1="349.60" y1="481.20" x2="362.20" y2="481.20" stroke="#000" stroke-width="1.4" stroke-linecap="butt"/>
<circle cx="353.90" cy="481.20" r="2.7" fill="#000"/>
<text transform="translate(366.20 484.40)" font-size="10.68" font-weight="bold" text-anchor="start" stroke="#000" stroke-width="0.3">10 uM MEK Inhibitor + IL-15</text>
<text transform="translate(0.30 665.70)" font-size="16" font-weight="bold" text-anchor="start" stroke="#000" stroke-width="0.8">D</text>
<line x1="83.60" y1="667.02" x2="83.60" y2="814.50" stroke="#000" stroke-width="2.7" stroke-linecap="butt"/>
<line x1="82.25" y1="813.20" x2="303.00" y2="813.20" stroke="#000" stroke-width="2.7" stroke-linecap="butt"/>
<line x1="77.60" y1="813.20" x2="83.60" y2="813.20" stroke="#000" stroke-width="2.3" stroke-linecap="butt"/>
<text transform="translate(77.30 816.50)" font-size="10.05" font-weight="bold" text-anchor="end" stroke="#000" stroke-width="0.3">0</text>
<line x1="77.60" y1="776.98" x2="83.60" y2="776.98" stroke="#000" stroke-width="2.3" stroke-linecap="butt"/>
<text transform="translate(77.30 780.28)" font-size="10.05" font-weight="bold" text-anchor="end" stroke="#000" stroke-width="0.3">200000</text>
<line x1="77.60" y1="740.76" x2="83.60" y2="740.76" stroke="#000" stroke-width="2.3" stroke-linecap="butt"/>
<text transform="translate(77.30 744.06)" font-size="10.05" font-weight="bold" text-anchor="end" stroke="#000" stroke-width="0.3">400000</text>
<line x1="77.60" y1="704.54" x2="83.60" y2="704.54" stroke="#000" stroke-width="2.3" stroke-linecap="butt"/>
<text transform="translate(77.30 707.84)" font-size="10.05" font-weight="bold" text-anchor="end" stroke="#000" stroke-width="0.3">600000</text>
<line x1="77.60" y1="668.32" x2="83.60" y2="668.32" stroke="#000" stroke-width="2.3" stroke-linecap="butt"/>
<text transform="translate(77.30 671.62)" font-size="10.05" font-weight="bold" text-anchor="end" stroke="#000" stroke-width="0.3">800000</text>
<text transform="translate(28.80 740.40) rotate(-90)" font-size="11.9" font-weight="bold" text-anchor="middle" stroke="#000" stroke-width="0.45">Cell number at 72 hours</text>
<line x1="101.70" y1="691.70" x2="101.70" y2="696.20" stroke="#a2a2a2" stroke-width="2.3" stroke-linecap="butt"/>
<line x1="94.70" y1="691.70" x2="108.70" y2="691.70" stroke="#a2a2a2" stroke-width="2.4" stroke-linecap="butt"/>
<rect x="88.40" y="695.20" width="26.60" height="116.80" fill="#a2a2a2"/>
<line x1="101.70" y1="813.20" x2="101.70" y2="818.40" stroke="#000" stroke-width="2.3" stroke-linecap="butt"/>
<text transform="translate(103.50 829.00) rotate(-45)" font-size="10.5" font-weight="bold" text-anchor="end" stroke="#000" stroke-width="0.45">vehicle</text>
<line x1="137.90" y1="677.90" x2="137.90" y2="681.50" stroke="#000" stroke-width="2.3" stroke-linecap="butt"/>
<line x1="130.90" y1="677.90" x2="144.90" y2="677.90" stroke="#000" stroke-width="2.4" stroke-linecap="butt"/>
<rect x="124.60" y="680.50" width="26.60" height="131.50" fill="#000"/>
<line x1="137.90" y1="813.20" x2="137.90" y2="818.40" stroke="#000" stroke-width="2.3" stroke-linecap="butt"/>
<text transform="translate(139.70 829.00) rotate(-45)" font-size="10.5" font-weight="bold" text-anchor="end" stroke="#000" stroke-width="0.45">vehicle + IL-15</text>
<line x1="174.15" y1="788.50" x2="174.15" y2="791.90" stroke="#8b8b8b" stroke-width="2.3" stroke-linecap="butt"/>
<line x1="167.15" y1="788.50" x2="181.15" y2="788.50" stroke="#8b8b8b" stroke-width="2.4" stroke-linecap="butt"/>
<rect x="160.80" y="790.90" width="26.70" height="21.10" fill="#8b8b8b"/>
<line x1="174.15" y1="813.20" x2="174.15" y2="818.40" stroke="#000" stroke-width="2.3" stroke-linecap="butt"/>
<text transform="translate(175.95 829.00) rotate(-45)" font-size="10.5" font-weight="bold" text-anchor="end" stroke="#000" stroke-width="0.45">NFKbI</text>
<line x1="210.45" y1="791.50" x2="210.45" y2="794.70" stroke="#adadad" stroke-width="2.3" stroke-linecap="butt"/>
<line x1="203.45" y1="791.50" x2="217.45" y2="791.50" stroke="#adadad" stroke-width="2.4" stroke-linecap="butt"/>
<rect x="198.00" y="794.60" width="24.90" height="17.40" fill="#d4d4d4" stroke="#adadad" stroke-width="1.8"/>
<line x1="210.45" y1="813.20" x2="210.45" y2="818.40" stroke="#000" stroke-width="2.3" stroke-linecap="butt"/>
<text transform="translate(212.25 829.00) rotate(-45)" font-size="10.5" font-weight="bold" text-anchor="end" stroke="#000" stroke-width="0.45">NFKbI + IL-15</text>
<line x1="246.95" y1="775.50" x2="246.95" y2="779.60" stroke="#5c5c5c" stroke-width="2.3" stroke-linecap="butt"/>
<line x1="239.95" y1="775.50" x2="253.95" y2="775.50" stroke="#5c5c5c" stroke-width="2.4" stroke-linecap="butt"/>
<rect x="233.70" y="778.60" width="26.50" height="33.40" fill="#5c5c5c"/>
<line x1="246.95" y1="813.20" x2="246.95" y2="818.40" stroke="#000" stroke-width="2.3" stroke-linecap="butt"/>
<text transform="translate(248.75 829.00) rotate(-45)" font-size="10.5" font-weight="bold" text-anchor="end" stroke="#000" stroke-width="0.45">PI3KI</text>
<line x1="283.40" y1="765.40" x2="283.40" y2="770.40" stroke="#a2a2a2" stroke-width="2.3" stroke-linecap="butt"/>
<line x1="276.40" y1="765.40" x2="290.40" y2="765.40" stroke="#a2a2a2" stroke-width="2.4" stroke-linecap="butt"/>
<rect x="270.00" y="769.40" width="26.80" height="42.60" fill="#a2a2a2"/>
<line x1="283.40" y1="813.20" x2="283.40" y2="818.40" stroke="#000" stroke-width="2.3" stroke-linecap="butt"/>
<text transform="translate(285.20 829.00) rotate(-45)" font-size="10.5" font-weight="bold" text-anchor="end" stroke="#000" stroke-width="0.45">PI3KI + IL-15</text>
<line x1="103.00" y1="667.40" x2="136.30" y2="667.40" stroke="#000" stroke-width="2.5" stroke-linecap="butt"/>
<line x1="103.00" y1="662.50" x2="103.00" y2="672.30" stroke="#000" stroke-width="2.3" stroke-linecap="butt"/>
<line x1="136.30" y1="662.50" x2="136.30" y2="672.30" stroke="#000" stroke-width="2.3" stroke-linecap="butt"/>
<line x1="176.15" y1="777.10" x2="212.15" y2="777.10" stroke="#000" stroke-width="2.5" stroke-linecap="butt"/>
<line x1="176.15" y1="772.20" x2="176.15" y2="782.00" stroke="#000" stroke-width="2.3" stroke-linecap="butt"/>
<line x1="212.15" y1="772.20" x2="212.15" y2="782.00" stroke="#000" stroke-width="2.3" stroke-linecap="butt"/>
<line x1="246.30" y1="754.10" x2="282.30" y2="754.10" stroke="#000" stroke-width="2.5" stroke-linecap="butt"/>
<line x1="246.30" y1="749.20" x2="246.30" y2="759.00" stroke="#000" stroke-width="2.3" stroke-linecap="butt"/>
<line x1="282.30" y1="749.20" x2="282.30" y2="759.00" stroke="#000" stroke-width="2.3" stroke-linecap="butt"/>
<text transform="translate(119.90 664.90)" font-size="18" font-weight="bold" text-anchor="middle" stroke="#000" stroke-width="0.3">*</text>
<text transform="translate(194.20 763.85)" font-size="13.1" font-weight="normal" text-anchor="middle" stroke="#000" stroke-width="0.5">n.s</text>
<text transform="translate(263.40 742.30)" font-size="13.1" font-weight="normal" text-anchor="middle" stroke="#000" stroke-width="0.5">n.s</text>
</svg>
</body>
</html>
